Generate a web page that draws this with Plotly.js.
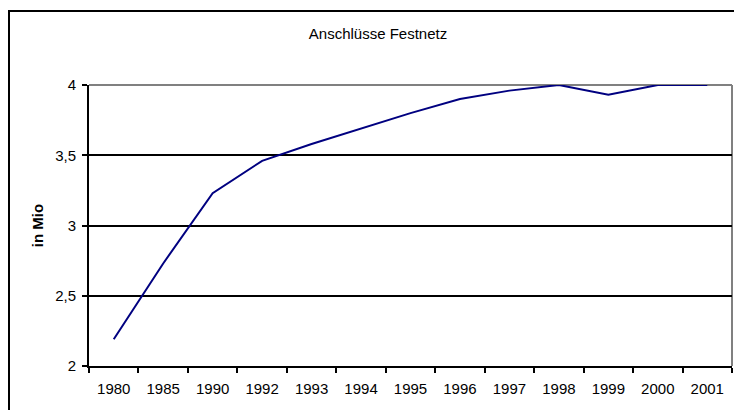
<!DOCTYPE html>
<html>
<head>
<meta charset="utf-8">
<script src="https://cdn.plot.ly/plotly-3.0.1.min.js"></script>
<style>
  html, body { margin: 0; padding: 0; overflow: hidden; background: #fff; }
  #chart { position: absolute; left: 0; top: 0; width: 734px; height: 410px; }
  #frame { position: absolute; left: 8px; top: 10px; width: 800px; height: 500px;
           border: 2px solid #000; pointer-events: none; box-sizing: border-box; }
</style>
</head>
<body>
<div id="chart"></div>
<div id="frame"></div>
<script>
const years = ["1980", "1985", "1990", "1992", "1993", "1994", "1995", "1996", "1997", "1998", "1999", "2000", "2001"];
const anschluesse = [2.19, 2.73, 3.23, 3.46, 3.58, 3.69, 3.80, 3.90, 3.96, 4.00, 3.93, 4.00, 4.00];
const yTicks = [2, 2.5, 3, 3.5, 4];

const font = "Liberation Sans, Arial, sans-serif";

Plotly.newPlot("chart", [{
  type: "scatter",
  mode: "lines",
  x: years,
  y: anschluesse,
  line: { color: "#000080", width: 2 },
  hoverinfo: "skip",
  cliponaxis: false
}], {
  width: 734,
  height: 410,
  margin: { l: 89, r: 2, t: 85, b: 44 },
  paper_bgcolor: "rgba(0,0,0,0)",
  plot_bgcolor: "#fff",
  separators: ",.",
  showlegend: false,
  font: { family: font, size: 15, color: "#000" },
  title: {
    text: "Anschlüsse Festnetz",
    font: { family: font, size: 15, color: "#000" },
    xref: "container", x: 0.515, xanchor: "center",
    yref: "container", y: 1 - 34 / 410, yanchor: "middle"
  },
  xaxis: {
    type: "category",
    range: [-0.5, years.length - 0.5],
    tickson: "boundaries",
    ticks: "outside",
    ticklen: 5,
    tickwidth: 2,
    tickcolor: "#000",
    showline: true,
    linecolor: "#000",
    linewidth: 2,
    showgrid: false,
    zeroline: false,
    ticklabelstandoff: 8,
    tickfont: { family: font, size: 15, color: "#000" }
  },
  yaxis: {
    range: [2, 4],
    tickvals: yTicks,
    ticks: "outside",
    ticklen: 5,
    tickwidth: 2,
    tickcolor: "#000",
    showline: true,
    linecolor: "#000",
    linewidth: 2,
    showgrid: true,
    gridcolor: "#000",
    gridwidth: 2,
    zeroline: false,
    ticklabelstandoff: 3,
    tickfont: { family: font, size: 15, color: "#000" },
    title: {
      text: "<b>in Mio</b>",
      font: { family: font, size: 15, color: "#000" },
      standoff: 8
    }
  },
  shapes: [
    { type: "line", xref: "paper", yref: "paper", x0: 0, x1: 1, y0: 1, y1: 1,
      line: { color: "#808080", width: 2 }, layer: "between" },
    { type: "line", xref: "paper", yref: "paper", x0: 1, x1: 1, y0: 0, y1: 1,
      line: { color: "#808080", width: 2 }, layer: "between" }
  ]
}, { staticPlot: true, displayModeBar: false });
</script>
</body>
</html>
